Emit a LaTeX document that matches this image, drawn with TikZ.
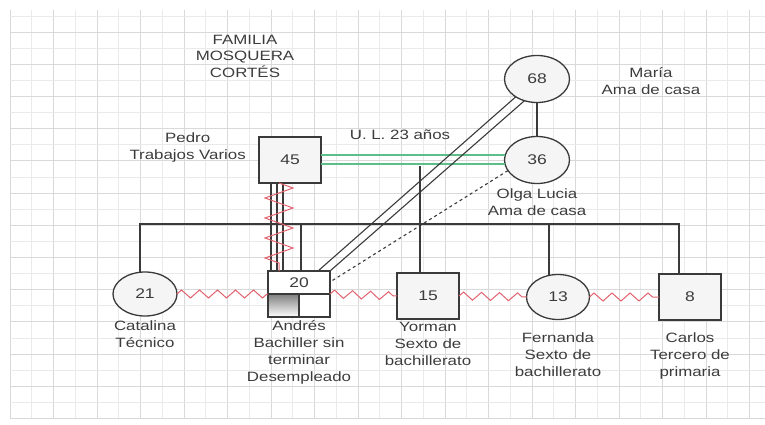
\documentclass[tikz,border=0pt]{standalone}
\usepackage{fontspec}
\setmainfont{Liberation Sans}[FakeStretch=1.25]
\usetikzlibrary{positioning,shapes.geometric,decorations.pathmorphing}
\definecolor{ink}{HTML}{3A3A3A}
\definecolor{txt}{HTML}{3C3C3C}
\definecolor{gridmajor}{HTML}{D9D9D9}
\definecolor{gridminor}{HTML}{EAEAEA}
\definecolor{ulgreen}{HTML}{5DBE8A}
\definecolor{conflictred}{HTML}{E2626F}
\definecolor{shade}{HTML}{5E5E5E}
\tikzset{
  grid major/.style={draw=gridmajor,line width=1pt},
  grid minor/.style={draw=gridminor,line width=0.8pt},
  person box/.style={rectangle,draw=ink,line width=1.5pt,fill=black!4,outer sep=0pt,
    minimum width=62pt,minimum height=46pt,text=txt,font=\fontsize{14}{17}\selectfont},
  person circle/.style={ellipse,draw=ink,line width=1.3pt,fill=black!4,outer sep=0pt,
    minimum width=65pt,minimum height=47pt,text=txt,font=\fontsize{14}{17}\selectfont},
  lbl/.style={text=txt,align=center,inner sep=0pt,font=\fontsize{13.5}{17}\selectfont},
  tie/.style={draw=ink,line width=1.1pt},
  ul line/.style={draw=ulgreen,line width=1.5pt},
  conflict line/.style={draw=conflictred,line width=1pt,decorate,
    decoration={zigzag,segment length=18pt,amplitude=4pt}}
}

\begin{document}
\begin{tikzpicture}[x=1pt,y=-1pt]
  \useasboundingbox (0,0) rectangle (765,425);
  % cuadricula de fondo
  \foreach \i in {0,...,34}{%
    \ifodd\i \draw[grid minor] (10+21.75*\i,10) -- (10+21.75*\i,418);
    \else \draw[grid major] (10+21.75*\i,10) -- (10+21.75*\i,418); \fi}
  \foreach \k in {0,...,25}{%
    \ifodd\k \draw[grid major] (10,16+16.1*\k) -- (765,16+16.1*\k);
    \else \draw[grid minor] (10,16+16.1*\k) -- (765,16+16.1*\k); \fi}

  \node[lbl,font=\fontsize{13.5}{16.5}\selectfont] (title) at (245,56) {FAMILIA\\MOSQUERA\\CORTÉS};

  % padres y abuela
  \node[person box] (pedro) at (290,160) {45};
  \node[person circle] (maria) at (537,79) {68};
  \node[person circle] (olga) at (537,160) {36};
  \node[lbl,left=13pt of pedro,yshift=12pt] (pedroLbl) {Pedro\\Trabajos Varios};
  \node[lbl,right=32pt of maria,yshift=-2pt] (mariaLbl) {María\\Ama de casa};
  \node[lbl,below=5pt of olga] (olgaLbl) {Olga Lucia\\Ama de casa};
  \node[lbl] (ulLbl) at (400,135) {U. L. 23 años};

  % hijos
  \node[person circle,minimum width=64pt,minimum height=44pt] (catalina) at (145,294) {21};
  \node[person box,fill=white] (andres) at (299,294) {};
  \node[person box] (yorman) at (428,296) {15};
  \node[person circle,minimum width=63pt,minimum height=45pt] (fernanda) at (558,297) {13};
  \node[person box] (carlos) at (690,297) {8};
  \fill[shade] (andres.west) rectangle (andres.south);
  \draw[tie] (andres.west) -- (andres.east) (andres.center) -- (andres.south);
  \draw[ink,line width=1.5pt] (andres.north west) rectangle (andres.south east);
  \path (andres.north) -- (andres.center) node[midway,text=txt,font=\fontsize{14}{17}\selectfont] (andresAge) {20};

  \node[lbl,below=5pt of catalina] (catalinaLbl) {Catalina\\Técnico};
  \node[lbl,below=3pt of andres] (andresLbl) {Andrés\\Bachiller sin\\terminar\\Desempleado};
  \node[lbl,below=3pt of yorman] (yormanLbl) {Yorman\\Sexto de\\bachillerato};
  \node[lbl,below=13pt of fernanda] (fernandaLbl) {Fernanda\\Sexto de\\bachillerato};
  \node[lbl,below=13pt of carlos] (carlosLbl) {Carlos\\Tercero de\\primaria};

  % relaciones
  \draw[tie] (maria) -- (olga);
  \draw[ul line] ([yshift=5pt]pedro.east) -- ([yshift=5pt]olga.west);
  \draw[ul line] ([yshift=-4pt]pedro.east) -- ([yshift=-4pt]olga.west);
  \coordinate (ulDrop) at (420,166);
  \draw[tie] (ulDrop) -- (ulDrop |- yorman.north);

  \coordinate (sibL) at (140,224);
  \coordinate (sibR) at (679,224);
  \draw[tie] (sibL |- catalina.north) -- (sibL) -- (sibR) -- (sibR |- carlos.north);
  \coordinate (dropA) at (301,224);
  \coordinate (dropF) at (549,224);
  \draw[tie] (dropA) -- (dropA |- andres.north);
  \draw[tie] (dropF) -- (dropF |- fernanda.north);

  \foreach \x in {271,277,283}{%
    \coordinate (pa) at (\x,0);
    \draw[tie] (pa |- pedro.south) -- (pa |- andres.north);}
  \coordinate (pz) at (279,0);
  \draw[conflict line,decoration={segment length=20pt,amplitude=14pt}]
    (pz |- pedro.south) -- (pz |- andres.north);

  \draw[conflict line] (catalina.east) -- (andres.west);
  \draw[conflict line] (andres.east) -- (yorman.west);
  \draw[conflict line] (yorman.east) -- (fernanda.west);
  \draw[conflict line] (fernanda.east) -- (carlos.west);

  \draw[tie] (maria.220) -- ([xshift=-12pt]andres.north east);
  \draw[tie] (maria.240) -- (andres.north east);
  \draw[tie,dashed] (olga.200) -- ([yshift=12pt]andres.east);
\end{tikzpicture}
\end{document}
